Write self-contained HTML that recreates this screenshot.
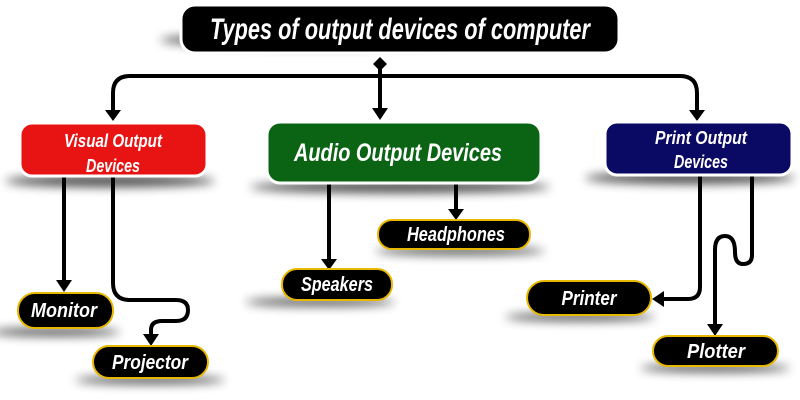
<!DOCTYPE html>
<html><head><meta charset="utf-8"><style>
html,body{margin:0;padding:0;background:#fff;width:800px;height:400px;overflow:hidden}
text{font-family:"Liberation Sans Narrow","Liberation Sans",sans-serif;font-weight:bold;font-style:italic;fill:#fff}
</style></head><body>
<svg width="800" height="400" viewBox="0 0 800 400" xmlns="http://www.w3.org/2000/svg">
<defs>
<filter id="b" x="-50%" y="-200%" width="200%" height="500%"><feGaussianBlur stdDeviation="5"/></filter>
</defs>
<g filter="url(#b)" fill="#000" opacity="0.7">
<ellipse cx="320" cy="40" rx="160" ry="7"/>
<ellipse cx="110" cy="181" rx="105" ry="6"/>
<ellipse cx="400" cy="187" rx="150" ry="6"/>
<ellipse cx="690" cy="178" rx="105" ry="6"/>
<ellipse cx="55" cy="332" rx="65" ry="4"/>
<ellipse cx="150" cy="380" rx="75" ry="4"/>
<ellipse cx="320" cy="302" rx="75" ry="4"/>
<ellipse cx="460" cy="251" rx="85" ry="4"/>
<ellipse cx="580" cy="317" rx="75" ry="4"/>
<ellipse cx="715" cy="368" rx="75" ry="4"/>
</g>
<g stroke="#000" stroke-width="4" fill="none">
<path d="M130 76 H680 Q697 76 697 93 V112"/>
<path d="M130 76 Q113 76 113 93 V112"/>
<path d="M380 64 V112"/>
<path d="M64 176 V282"/>
<path d="M113 176 V283 Q113 300 130 300 H176 Q188 300 188 310 Q188 321 176 321 H162 Q151 321 151 330 V338"/>
<path d="M329 183 V261"/>
<path d="M456 183 V212"/>
<path d="M700 175 V287 Q700 299 688 299 H660"/>
<path d="M752 175 V255 Q752 264 743 264 Q735 264 735 252 Q735 236 725 236 Q715 236 715 250 V328"/>
</g>
<g fill="#000">
<path d="M373 64 L380 57 L387 64 L380 71Z"/>
<path d="M105 110 L121 110 L113 121Z"/>
<path d="M372 108 L388 108 L380 120Z"/>
<path d="M689 110 L705 110 L697 121Z"/>
<path d="M56 280 L72 280 L64 292Z"/>
<path d="M143 334 L159 334 L151 346Z"/>
<path d="M321 259 L337 259 L329 270Z"/>
<path d="M448 209 L464 209 L456 220Z"/>
<path d="M664 291 L664 307 L652 299Z"/>
<path d="M707 324 L723 324 L715 336Z"/>
</g>
<rect x="181" y="5" width="438" height="48" rx="14" fill="#000" stroke="#fff" stroke-width="3"/>
<text x="400" y="39" font-size="30" text-anchor="middle" textLength="380" lengthAdjust="spacingAndGlyphs">Types of output devices of computer</text>
<rect x="20" y="123" width="187" height="53" rx="12" fill="#e81414" stroke="#fff" stroke-width="3"/>
<text x="113" y="147" font-size="18" text-anchor="middle" textLength="98" lengthAdjust="spacingAndGlyphs">Visual Output</text>
<text x="113" y="172" font-size="18" text-anchor="middle" textLength="54" lengthAdjust="spacingAndGlyphs">Devices</text>
<rect x="267" y="122" width="274" height="61" rx="13" fill="#0a6414" stroke="#fff" stroke-width="3"/>
<text x="398" y="161" font-size="25" text-anchor="middle" textLength="208" lengthAdjust="spacingAndGlyphs">Audio Output Devices</text>
<rect x="605" y="122" width="187" height="53" rx="12" fill="#0a0a64" stroke="#fff" stroke-width="3"/>
<text x="701" y="144" font-size="18" text-anchor="middle" textLength="92" lengthAdjust="spacingAndGlyphs">Print Output</text>
<text x="701" y="168" font-size="18" text-anchor="middle" textLength="54" lengthAdjust="spacingAndGlyphs">Devices</text>
<g fill="#000" stroke="#e8b800" stroke-width="2">
<rect x="18" y="293" width="95" height="35" rx="17"/>
<rect x="93" y="346" width="115" height="32" rx="16"/>
<rect x="282" y="269" width="110" height="31" rx="15"/>
<rect x="378" y="220" width="152" height="29" rx="14"/>
<rect x="527" y="281" width="124" height="34" rx="17"/>
<rect x="653" y="336" width="125" height="30" rx="15"/>
</g>
<g font-size="20" text-anchor="middle">
<text x="64" y="317" textLength="66" lengthAdjust="spacingAndGlyphs">Monitor</text>
<text x="150" y="369" textLength="76" lengthAdjust="spacingAndGlyphs">Projector</text>
<text x="337" y="291" textLength="72" lengthAdjust="spacingAndGlyphs">Speakers</text>
<text x="456" y="241" textLength="98" lengthAdjust="spacingAndGlyphs">Headphones</text>
<text x="589" y="305" textLength="55" lengthAdjust="spacingAndGlyphs">Printer</text>
<text x="716" y="358" textLength="58" lengthAdjust="spacingAndGlyphs">Plotter</text>
</g>
</svg>
</body></html>
